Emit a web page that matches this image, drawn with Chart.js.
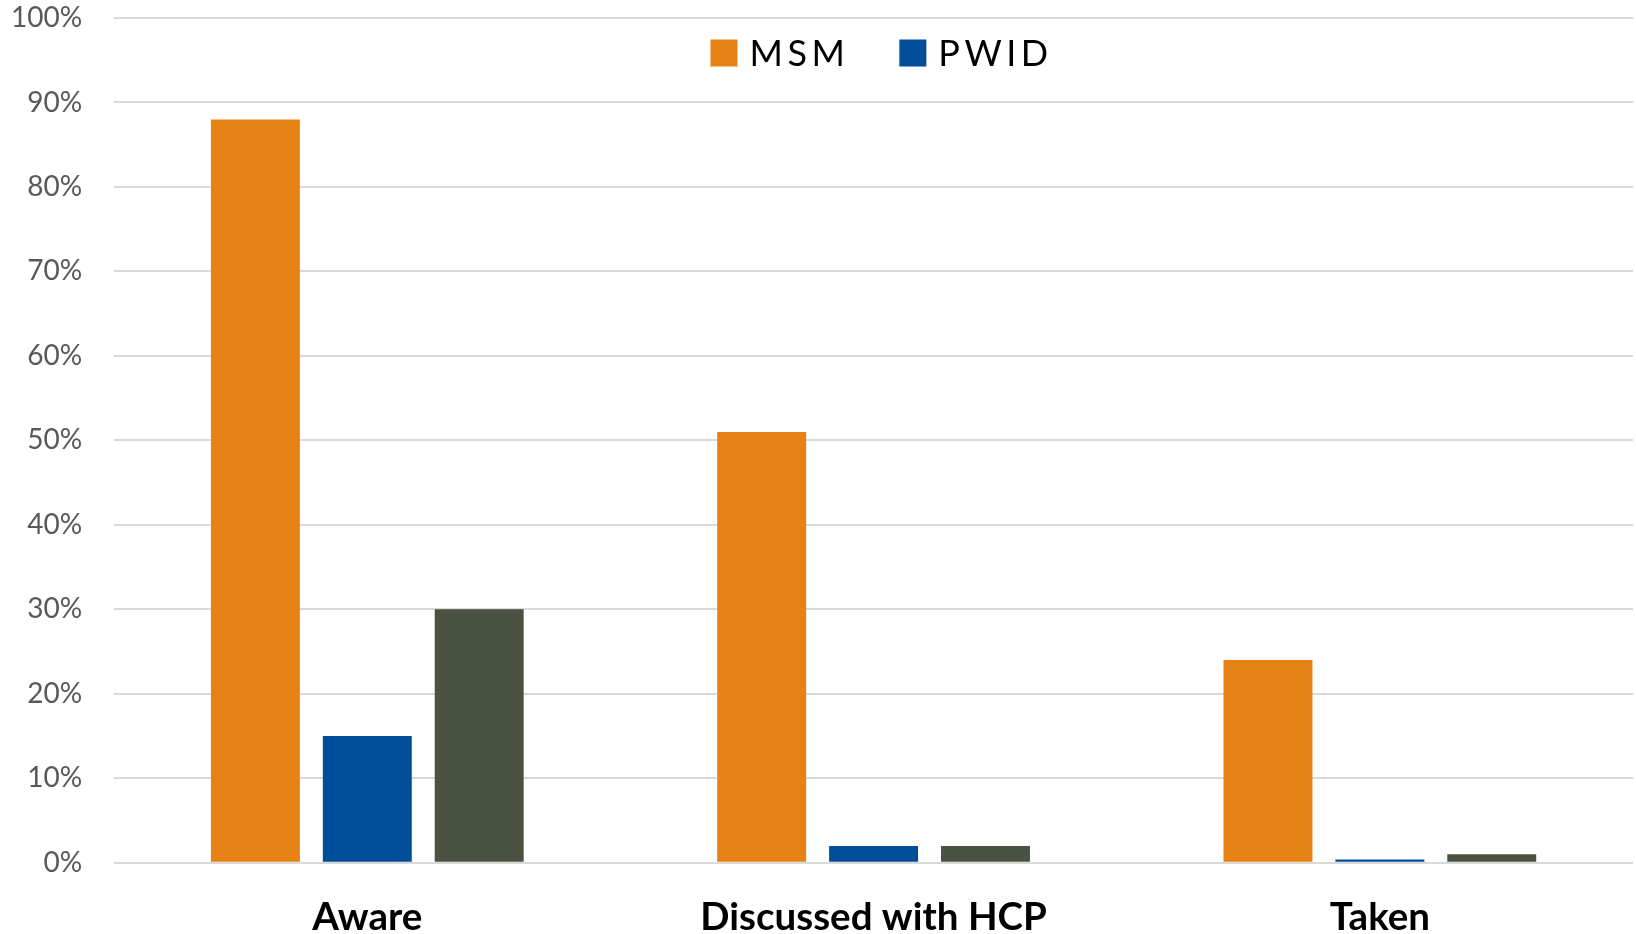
<!DOCTYPE html>
<html>
<head>
<meta charset="utf-8">
<script src="https://cdn.jsdelivr.net/npm/chart.js@4"></script>
<style>
  html, body { margin: 0; padding: 0; background: #fff; overflow: hidden; }
  #wrap { position: relative; width: 1636px; height: 965px; }
</style>
</head>
<body>
<div id="wrap"><canvas id="prep-chart"></canvas></div>
<script>
// categories and series (percent)
const categories = ["Aware", "Discussed with HCP", "Taken"];
const msmValues = [88, 51, 24];
const pwidValues = [15, 2, 0.4];
const otherValues = [30, 2, 1];
const yTicks = [0, 10, 20, 30, 40, 50, 60, 70, 80, 90, 100];

const chartCanvas = document.getElementById("prep-chart");

// legend sits inside the plot area, only the first two series are listed
const insideLegend = {
    id: "insideLegend",
    afterDatasetsDraw(chart) {
        const ctx = chart.ctx;
        const area = chart.chartArea;
        const items = chart.data.datasets.slice(0, 2);
        const box = 27;
        const gap = 12;
        const spacing = 50;
        ctx.save();
        ctx.font = "36px Lato";
        ctx.letterSpacing = "4.5px";
        ctx.textBaseline = "middle";
        let total = 0;
        items.forEach((ds, i) => {
            total += box + gap + ctx.measureText(ds.label).width;
            if (i > 0) total += spacing;
        });
        let x = (area.left + area.right) / 2 - total / 2 + 8;
        const y = area.top + 35;
        items.forEach((ds) => {
            ctx.fillStyle = ds.backgroundColor;
            ctx.fillRect(x, y - box / 2, box, box);
            x += box + gap;
            ctx.fillStyle = "#000";
            ctx.fillText(ds.label, x, y + 1);
            x += ctx.measureText(ds.label).width + spacing;
        });
        ctx.restore();
    },
};

const prepChart = new Chart(chartCanvas, {
    type: "bar",
    data: {
        labels: categories,
        datasets: [
            {
                label: "MSM",
                backgroundColor: "#E58213",
                data: msmValues,
            },
            {
                label: "PWID",
                backgroundColor: "#004D9A",
                data: pwidValues,
            },
            {
                label: "Other",
                backgroundColor: "#4A5341",
                data: otherValues,
            },
        ],
    },
    options: {
        responsive: true,
        maintainAspectRatio: false,
        animation: false,
        datasets: {
            bar: {
                categoryPercentage: 0.663,
                barPercentage: 0.795,
            },
        },
        scales: {
            x: {
                grid: { display: false },
                border: { display: false },
                ticks: {
                    color: "#000",
                    padding: 24,
                    font: { family: "Lato", size: 38.5, weight: "bold" },
                },
            },
            y: {
                min: 0,
                max: 100,
                afterBuildTicks: (axis) => {
                    axis.ticks = yTicks.map((v) => ({ value: v }));
                },
                // tick padding should only push labels sideways, not down from the top
                afterFit: (axis) => {
                    axis.paddingTop = 18;
                    axis.paddingBottom = 18;
                },
                border: { display: false },
                grid: {
                    color: "#D9D9D9",
                    lineWidth: 2,
                    drawTicks: false,
                },
                ticks: {
                    color: "#595959",
                    padding: 32,
                    font: { family: "Lato", size: 28 },
                    callback: (v) => v + "%",
                },
            },
        },
        layout: {
            padding: { top: 0, left: -21, right: 3, bottom: 0 },
        },
        plugins: {
            legend: { display: false },
            tooltip: { enabled: false },
        },
    },
    plugins: [insideLegend],
});
</script>
</body>
</html>
